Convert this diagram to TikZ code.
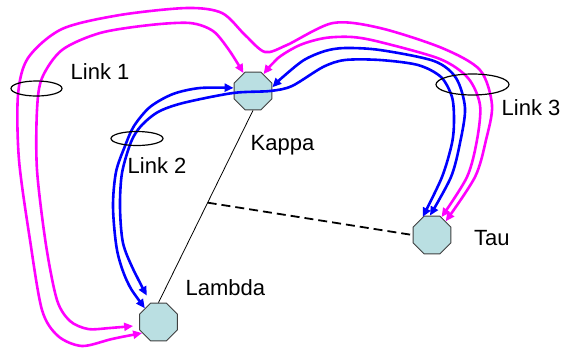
\documentclass[tikz,border=0pt]{standalone}
\usepackage{fontspec}
\setmainfont{Liberation Sans}
\usetikzlibrary{shapes.geometric,arrows.meta,calc}

\definecolor{routerfill}{RGB}{186,223,226}
\definecolor{pinklink}{RGB}{255,0,255}
\definecolor{bluelink}{RGB}{0,0,255}

\tikzset{
  router/.style={regular polygon, regular polygon sides=8, minimum size=41pt,
    inner sep=0pt, draw=black!75, line width=0.9pt, fill=routerfill},
  lbl/.style={anchor=base west, inner sep=0pt, font=\fontsize{22}{26}\selectfont},
  ring/.style={draw=black, line width=1.2pt},
  pinkpath/.style={draw=pinklink, line width=2.6pt, <->},
  bluepath/.style={draw=bluelink, line width=2.6pt, <->},
  >={Triangle[length=9pt,width=8pt]}
}

\begin{document}
\begin{tikzpicture}[x=1pt, y=-1pt]
              \useasboundingbox (0,0) rectangle (565,349);

              \node[router] (kappa)  at (253,91)    {};
              \node[router] (lambda) at (158.5,322) {};
              \node[router] (tau)    at (432,235)   {};

              \node[lbl] (kappalbl)  at (250.5,150) {Kappa};
              \node[lbl] (lambdalbl) at (185.5,295) {Lambda};
              \node[lbl] (taulbl)    at (474,245)   {Tau};
              \node[lbl] (link1)     at (70.5,79)   {Link 1};
              \node[lbl] (link2)     at (127.5,173) {Link 2};
              \node[lbl] (link3)     at (501.5,115) {Link 3};

              \draw [line width=0.8pt] (kappa.south) -- (lambda.north);
              \coordinate (mid) at ($(kappa.south)!0.48!(lambda.north)$);
              \draw [line width=1.8pt, dash pattern=on 9pt off 5pt] (mid) -- (tau.west);

              % magenta paths
              \draw[pinkpath] plot[smooth] coordinates {(lambda.214) (112,339) (82,346) (58,336) (42,310)
                (30,240) (19,160) (18,95) (28,58) (62,29) (120,15) (187,8) (222,13) (245,35) (265,52)
                (287,45) (333,23) (380,28) (442,48) (480,70) (492,105) (486,140) (475,177) (tau.45)};
              \draw[pinkpath, shorten <=6pt] plot[smooth] coordinates {(lambda.190) (110,328) (88,329) (70,321)
                (57,300) (46,245) (37,170) (37,110) (42,78) (62,50) (100,33) (150,25) (190,23) (213,31)
                (229,50) (kappa.118)};
              \draw[pinkpath] plot[smooth] coordinates {(kappa.58) (278,58) (300,45) (325,38) (352,37)
                (380,42) (440,59) (468,78) (480,105) (477,140) (467,177) (tau.62)};

              % blue paths
              \draw[bluepath] plot[smooth] coordinates {(lambda.135) (127,281) (117,250) (113,207) (116,172)
                (125,146) (134,126) (150,107) (173,94) (200,88) (kappa.171)};
              \draw[bluepath, shorten <=8pt] plot[smooth] coordinates {(lambda.112) (134,271) (123,243)
                (120,207) (122,173) (131,142) (141,126) (158,112) (183,103) (233,93) (270,91) (292,86)
                (323,67) (345,60) (380,60) (418,65) (441,77) (452,97) (454,120) (452,143) (442,177) (tau.117)};
              \draw[bluepath] plot[smooth] coordinates {(kappa.11) (284,76) (304,60) (325,51) (345,48)
                (380,50) (434,61) (456,78) (465,108) (460,143) (451,177) (tau.96)};

              \draw[ring] (36.5,88.5) ellipse [x radius=25.5, y radius=7.5];
              \draw[ring] (137,138.5) ellipse [x radius=26, y radius=7];
              \draw[ring] (472.5,84.5) ellipse [x radius=36.5, y radius=10.5];

          \end{tikzpicture}
\end{document}
